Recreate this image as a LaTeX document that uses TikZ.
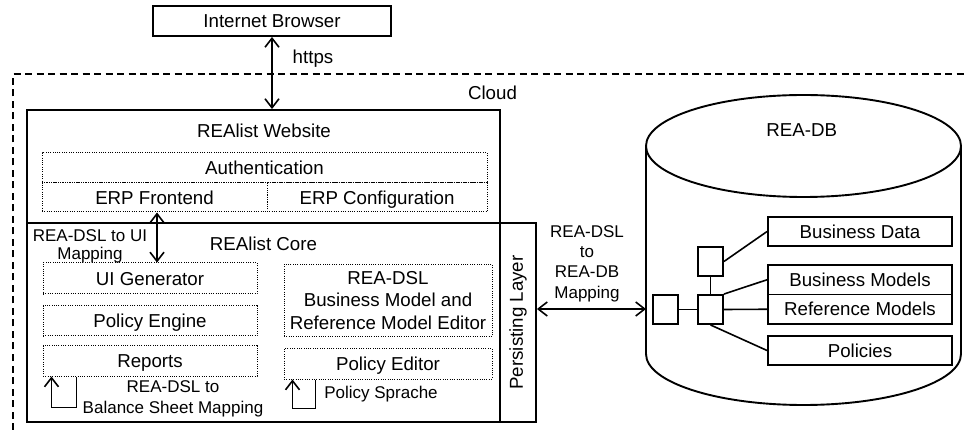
\documentclass[tikz,border=0pt]{standalone}
\usepackage{fontspec}
\setmainfont{Liberation Sans}
\usepackage{graphicx}
\usetikzlibrary{arrows.meta}
\begin{document}
\begin{tikzpicture}[x=1pt,y=-1pt,font=\fontsize{18.7}{20.5}\selectfont,
  >={Straight Barb[length=9pt,width=14pt]},
  box/.style={draw,line width=1.9pt,inner sep=0pt,align=center},
  part/.style={draw,line width=1pt,dash pattern=on 1pt off 1.3pt,inner sep=0pt,align=center},
  one/.style={text height=13.4pt,text depth=0pt},
  sq/.style={draw,line width=1.9pt,minimum width=25,minimum height=29},
  txt/.style={inner sep=0pt,align=center},
  lbl/.style={inner sep=0pt,align=center,font=\fontsize{17}{20.5}\selectfont},
  conn/.style={draw,line width=1.6pt}]
\useasboundingbox (0,0) rectangle (964,430);
\node[box,one,minimum width=238,minimum height=30] (browser) at (272,21) {Internet Browser};
\node[txt,one] (https) at (313,56.7) {https};
\path[draw,line width=1.6pt,dash pattern=on 7pt off 4.5pt] (13,430) -- (13,74) -- (964,74);
\node[txt,one] (cloud) at (492.5,93) {Cloud};
% website
\node[box,minimum width=473,minimum height=113] (website) at (263.5,166.5) {};
\node[txt,one] (websitelbl) at (264,130.5) {REAlist Website};
\node[part,one,minimum width=445,minimum height=30] (auth) at (264.5,168) {Authentication};
\node[part,one,minimum width=225,minimum height=29] (erpfront) at (154.5,197.5) {ERP Frontend};
\node[part,one,minimum width=220,minimum height=29] (erpconf) at (377,197.5) {ERP Configuration};
% core
\node[box,minimum width=473,minimum height=199] (core) at (263.5,322.5) {};
\node[txt,one] (corelbl) at (263.5,244) {REAlist Core};
\node[box,minimum width=36,minimum height=199] (persist) at (518,322.5) {\rotatebox{90}{Persisting Layer}};
\node[part,one,minimum width=214,minimum height=31] (uigen) at (150,278.5) {UI Generator};
\node[part,one,minimum width=214,minimum height=30] (polengine) at (150,321) {Policy Engine};
\node[part,one,minimum width=214,minimum height=30] (reports) at (150,361) {Reports};
\node[part,minimum width=208,minimum height=72,font=\fontsize{18.7}{22.6}\selectfont] (readsl) at (388,300.5) {REA-DSL\\Business Model and\\Reference Model Editor};
\node[part,one,minimum width=208,minimum height=30] (poleditor) at (388,364) {Policy Editor};
\node[lbl,font=\fontsize{17}{18.5}\selectfont] (uimap) at (90,246.5) {REA-DSL to UI\\Mapping};
\node[lbl,font=\fontsize{17}{20.6}\selectfont] (balmap) at (173,398.6) {REA-DSL to\\Balance Sheet Mapping};
\node[lbl] (sprache) at (381,394) {Policy Sprache};
% database
\path[draw,line width=1.9pt] (646,146) -- (646,354) arc[start angle=180,end angle=0,x radius=157.5,y radius=51] -- (961,146);
\path[draw,line width=1.9pt] (803.5,146) ellipse [x radius=157.5,y radius=51];
\coordinate (dbleft) at (646,309);
\node[txt,one] (db) at (801.7,130) {REA-DB};
\node[lbl,font=\fontsize{17}{20.2}\selectfont] (dbmap) at (587,263.6) {REA-DSL\\to\\REA-DB\\Mapping};
\node[box,one,minimum width=184,minimum height=29.5] (bdata) at (860,231.5) {Business Data};
\node[box,one,minimum width=184,minimum height=29.5] (bmodels) at (860,279.75) {Business Models};
\node[box,one,minimum width=184,minimum height=29.5] (rmodels) at (860,309.25) {Reference Models};
\node[box,one,minimum width=184,minimum height=29.5] (policies) at (860,350.5) {Policies};
\node[sq] (sqleft) at (665.5,309.5) {};
\node[sq] (sqmid) at (710.5,309.5) {};
\node[sq] (sqtop) at (710.5,261.5) {};
% connectors
\path[conn,<->] (browser.south) -- (browser.south |- website.north);
\path[conn,<->] ([xshift=2.5]erpfront.south) -- ([xshift=7]uigen.north);
\path[conn,->] ([xshift=34]reports.south west) -- ++(0,31) -| ([xshift=9]reports.south west);
\path[conn,->] ([xshift=32]poleditor.south west) -- ++(0,29) -| ([xshift=9]poleditor.south west);
\path[conn,<->] (persist.east |- dbleft) -- (dbleft);
\path[conn] (sqleft) -- (sqmid);
\path[conn] (sqtop) -- (sqmid);
\path[conn] (sqtop.east) -- (bdata.west);
\path[conn] (sqmid.north east) -- (bmodels.west);
\path[conn] (sqmid.east) -- (rmodels.west);
\path[conn] (sqmid.south) -- (policies.west);
\end{tikzpicture}
\end{document}
